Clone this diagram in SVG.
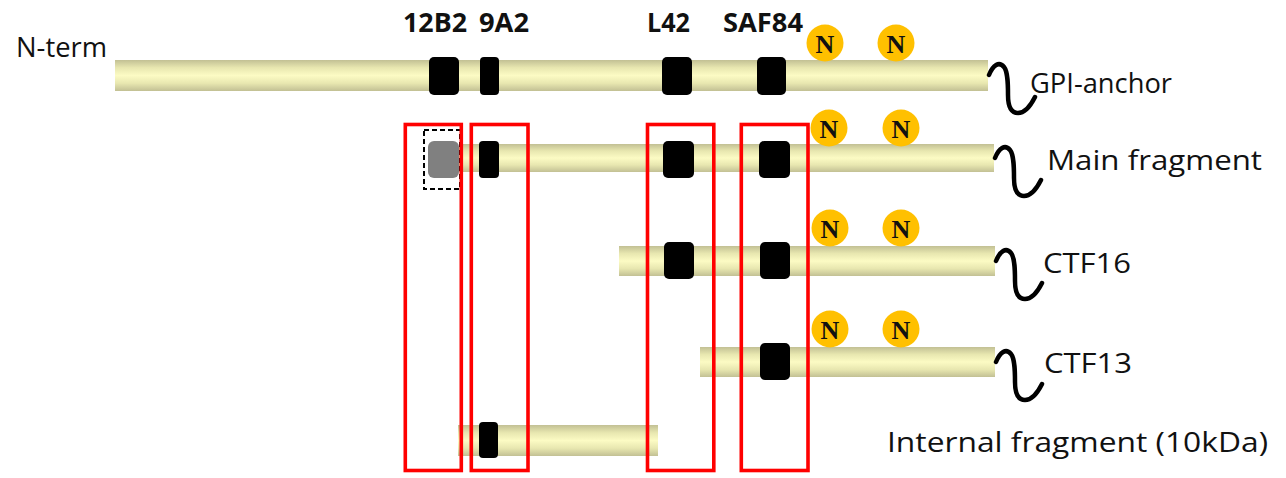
<svg xmlns="http://www.w3.org/2000/svg" xmlns:xlink="http://www.w3.org/1999/xlink" width="1286" height="478" viewBox="0 0 1286 478">
  <style>
    .bar { fill: url(#barGrad); }
    .blk { fill: #000000; }
    .gry { fill: #808080; }
    .hl { fill: none; stroke: #ff0000; stroke-width: 3.6; }
    .dash { fill: none; stroke: #000000; stroke-width: 2; stroke-dasharray: 5 3; }
    .nc { fill: #ffc000; }
    .nt { font-family: "Liberation Serif", serif; font-weight: bold; font-size: 26px; fill: #111; text-anchor: middle; }
    .lbl { font-family: "Open Sans", "Liberation Sans", sans-serif; font-size: 26.5px; fill: #111; }
    .ep { font-family: "Open Sans", "Liberation Sans", sans-serif; font-weight: bold; font-size: 26.5px; fill: #111; }
    .sq { fill: none; stroke: #000000; stroke-width: 4.5; stroke-linecap: round; }
  </style>
  <defs>
    <linearGradient id="barGrad" x1="0" y1="0" x2="0" y2="1">
      <stop offset="0" stop-color="#c2c094"/>
      <stop offset="0.25" stop-color="#e8e7b0"/>
      <stop offset="0.5" stop-color="#fcfbc4"/>
      <stop offset="0.75" stop-color="#e8e7b0"/>
      <stop offset="1" stop-color="#c2c094"/>
    </linearGradient>
    <path id="squig" class="sq" d="M0,0 C4,-10 10,-14 15,-8 C19,-3 19,10 19,20 C19,32 22,38 29,38 C37,38 42,30 46,22"/>
  </defs>

  <!-- Full-length protein with GPI anchor -->
  <g id="full-length">
    <rect class="bar" x="115" y="60" width="873" height="31"/>
    <rect class="blk" x="429" y="57" width="30" height="38" rx="5"/>
    <rect class="blk" x="480" y="57" width="19" height="38" rx="4"/>
    <rect class="blk" x="662" y="57" width="30" height="38" rx="5"/>
    <rect class="blk" x="757" y="57" width="29" height="38" rx="5"/>
    <circle class="nc" cx="825" cy="43" r="18.5"/>
    <text class="nt" x="825" y="52.5">N</text>
    <circle class="nc" cx="896" cy="43" r="18.5"/>
    <text class="nt" x="896" y="52.5">N</text>
    <use xlink:href="#squig" x="989" y="75"/>
    <text class="lbl" x="16" y="57" textLength="91" lengthAdjust="spacingAndGlyphs">N-term</text>
    <text class="lbl" x="1030" y="93" textLength="142" lengthAdjust="spacingAndGlyphs">GPI-anchor</text>
  </g>

  <!-- Epitope labels -->
  <g id="epitopes">
    <text class="ep" x="403" y="32" textLength="64" lengthAdjust="spacingAndGlyphs">12B2</text>
    <text class="ep" x="479" y="32" textLength="50" lengthAdjust="spacingAndGlyphs">9A2</text>
    <text class="ep" x="647" y="32" textLength="43" lengthAdjust="spacingAndGlyphs">L42</text>
    <text class="ep" x="723" y="32" textLength="80" lengthAdjust="spacingAndGlyphs">SAF84</text>
  </g>

  <!-- Main fragment -->
  <g id="main-fragment">
    <rect class="bar" x="459" y="144" width="535" height="28"/>
    <rect class="gry" x="428" y="141" width="31" height="37" rx="6"/>
    <rect class="dash" x="424" y="130" width="36" height="59"/>
    <rect class="blk" x="479" y="141" width="20" height="37" rx="4"/>
    <rect class="blk" x="663" y="141" width="31" height="37" rx="5"/>
    <rect class="blk" x="759" y="141" width="31" height="37" rx="5"/>
    <circle class="nc" cx="829" cy="128" r="18.5"/>
    <text class="nt" x="829" y="137.5">N</text>
    <circle class="nc" cx="901" cy="128" r="18.5"/>
    <text class="nt" x="901" y="137.5">N</text>
    <use xlink:href="#squig" x="995" y="158"/>
    <text class="lbl" x="1047" y="170" textLength="215" lengthAdjust="spacingAndGlyphs">Main fragment</text>
  </g>

  <!-- CTF16 -->
  <g id="ctf16">
    <rect class="bar" x="619" y="246" width="376" height="30"/>
    <rect class="blk" x="664" y="242" width="30" height="37" rx="5"/>
    <rect class="blk" x="760" y="242" width="30" height="37" rx="5"/>
    <circle class="nc" cx="830" cy="228" r="18.5"/>
    <text class="nt" x="830" y="237.5">N</text>
    <circle class="nc" cx="901" cy="228" r="18.5"/>
    <text class="nt" x="901" y="237.5">N</text>
    <use xlink:href="#squig" x="996" y="261"/>
    <text class="lbl" x="1043" y="273" textLength="88" lengthAdjust="spacingAndGlyphs">CTF16</text>
  </g>

  <!-- CTF13 -->
  <g id="ctf13">
    <rect class="bar" x="700" y="347" width="295" height="30"/>
    <rect class="blk" x="760" y="343" width="30" height="37" rx="5"/>
    <circle class="nc" cx="830" cy="329" r="18.5"/>
    <text class="nt" x="830" y="338.5">N</text>
    <circle class="nc" cx="901" cy="329" r="18.5"/>
    <text class="nt" x="901" y="338.5">N</text>
    <use xlink:href="#squig" x="996" y="362"/>
    <text class="lbl" x="1044" y="373" textLength="88" lengthAdjust="spacingAndGlyphs">CTF13</text>
  </g>

  <!-- Internal fragment -->
  <g id="internal-fragment">
    <rect class="bar" x="458" y="425" width="200" height="31"/>
    <rect class="blk" x="479" y="422" width="19" height="36" rx="4"/>
    <text class="lbl" x="887" y="452" textLength="381" lengthAdjust="spacingAndGlyphs">Internal fragment (10kDa)</text>
  </g>

  <!-- Epitope highlight boxes -->
  <g id="highlight-boxes">
    <rect class="hl" x="405.3" y="124.5" width="56" height="346"/>
    <rect class="hl" x="471.3" y="124.5" width="56.7" height="346"/>
    <rect class="hl" x="647.5" y="124.5" width="66.3" height="346"/>
    <rect class="hl" x="741.3" y="124.5" width="66.7" height="346"/>
  </g>
</svg>
